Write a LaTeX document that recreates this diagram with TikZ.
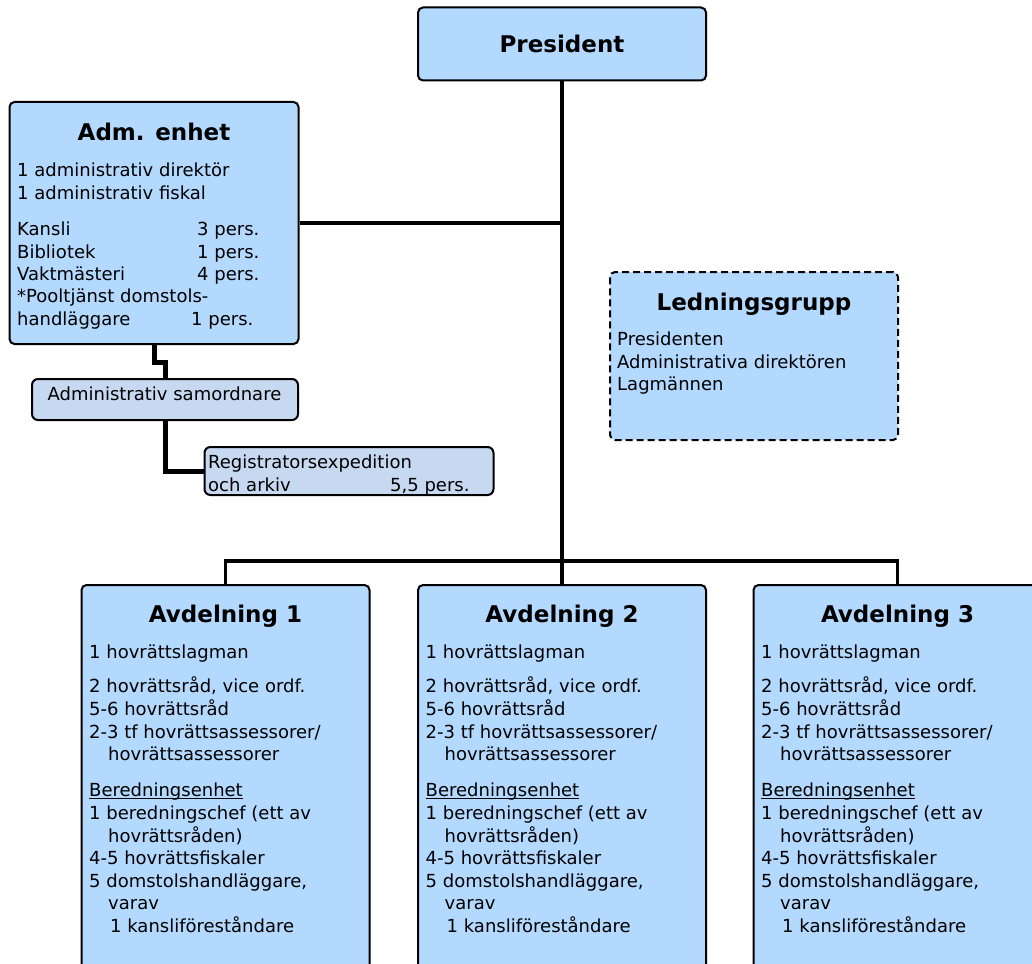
\documentclass[tikz,border=0pt]{standalone}
\usepackage{fontspec}
\setmainfont{DejaVu Sans}
\usetikzlibrary{positioning}

\definecolor{unitfill}{RGB}{179,217,255}
\definecolor{subfill}{RGB}{198,217,241}

\newcommand{\perscol}[3]{\makebox[#1][l]{#2}#3}
\newcommand{\uword}[1]{\setbox0\hbox{#1}\rlap{\rule[-2.2pt]{\wd0}{0.9pt}}#1}

\tikzset{
    unitbox/.style={draw=black, line width=2pt, rounded corners=5pt, fill=unitfill, inner sep=0pt},
    subbox/.style={draw=black, line width=2pt, rounded corners=6pt, fill=subfill, inner sep=0pt},
    groupbox/.style={unitbox, dash pattern=on 7pt off 4pt},
    unittitle/.style={font=\bfseries\fontsize{23}{28}\selectfont, inner sep=0pt, anchor=base},
    unittext/.style={font=\fontsize{18}{22.4}\selectfont, align=left, anchor=north west, inner sep=0pt},
    link/.style={line width=3.5pt},
    sublink/.style={line width=5pt},
}

\begin{document}
\begin{tikzpicture}[x=1pt, y=-1pt]
    \useasboundingbox (0,0) rectangle (1032,963);
    \clip (0,0) rectangle (1032,963);

    % Drawing the president
    \node[unitbox, minimum width=288pt, minimum height=73pt] (pres) at (562,44) {};
    \node[unittitle] (prestitle) at (562,53) {President};

    % Drawing the administrative unit
    \node[unitbox, minimum width=289pt, minimum height=242pt] (adm) at (154,223) {};
    \node[unittitle] (admtitle) at (154,140) {Adm. enhet};
    \node[unittext] (admtext) at (17,163) {1 administrativ direktör\\
        1 administrativ fiskal\\[14pt]
        \perscol{180pt}{Kansli}{3 pers.}\\
        \perscol{180pt}{Bibliotek}{1 pers.}\\
        \perscol{180pt}{Vaktmästeri}{4 pers.}\\
        *Pooltjänst domstols-\\
        \perscol{174pt}{handläggare}{1 pers.}};

    % Drawing the coordinator and the registry
    \node[subbox, minimum width=266pt, minimum height=41pt] (samord) at (165,399.5) {};
    \node[font=\fontsize{18}{22}\selectfont, inner sep=0pt, anchor=base] (samordtext) at (164.5,400) {Administrativ samordnare};
    \node[subbox, minimum width=289pt, minimum height=48pt] (reg) at (349,471) {};
    \node[unittext] (regtext) at (208,455) {Registratorsexpedition\\
        \perscol{182pt}{och arkiv}{5,5 pers.}};

    % Drawing the management group
    \node[groupbox, minimum width=288pt, minimum height=168pt] (ledn) at (754,356) {};
    \node[unittitle] (ledntitle) at (754,310) {Ledningsgrupp};
    \node[unittext] (ledntext) at (617,332) {Presidenten\\
        Administrativa direktören\\
        Lagmännen};

    % Drawing the departments
    \foreach \n/\x in {1/225.5, 2/562, 3/897.5} {
        \node[unitbox, minimum width=288pt, minimum height=400pt] (avd\n) at (\x,785) {};
        \node[unittitle] (avdtitle\n) at (\x,622) {Avdelning \n};
        \node[unittext, font=\fontsize{18}{22.6}\selectfont] (avdtext\n) at (\x-136.5,645) {1 hovrättslagman\\[11.5pt]
            2 hovrättsråd, vice ordf.\\
            5-6 hovrättsråd\\
            2-3 tf hovrättsassessorer/\\
            \hspace*{19pt}hovrättsassessorer\\[13.5pt]
            \uword{Beredningsenhet}\\
            1 beredningschef (ett av\\
            \hspace*{19pt}hovrättsråden)\\
            4-5 hovrättsfiskaler\\
            5 domstolshandläggare,\\
            \hspace*{19pt}varav\\
            \hspace*{21pt}1 kansliföreståndare};
    }

    % Drawing the connectors
    \coordinate (bar) at (562,561);
    \draw[link] (pres.south) -- (avd2.north);
    \draw[link] (adm.east) -- (adm.east -| pres.south);
    \draw[link] (avd1.north) -- (avd1.north |- bar) -- (avd3.north |- bar) -- (avd3.north);
    \draw[sublink] (adm.south) -- ++(0,17) -| (samord.north);
    \draw[sublink] (samord.south) |- (reg.west);
\end{tikzpicture}
\end{document}
